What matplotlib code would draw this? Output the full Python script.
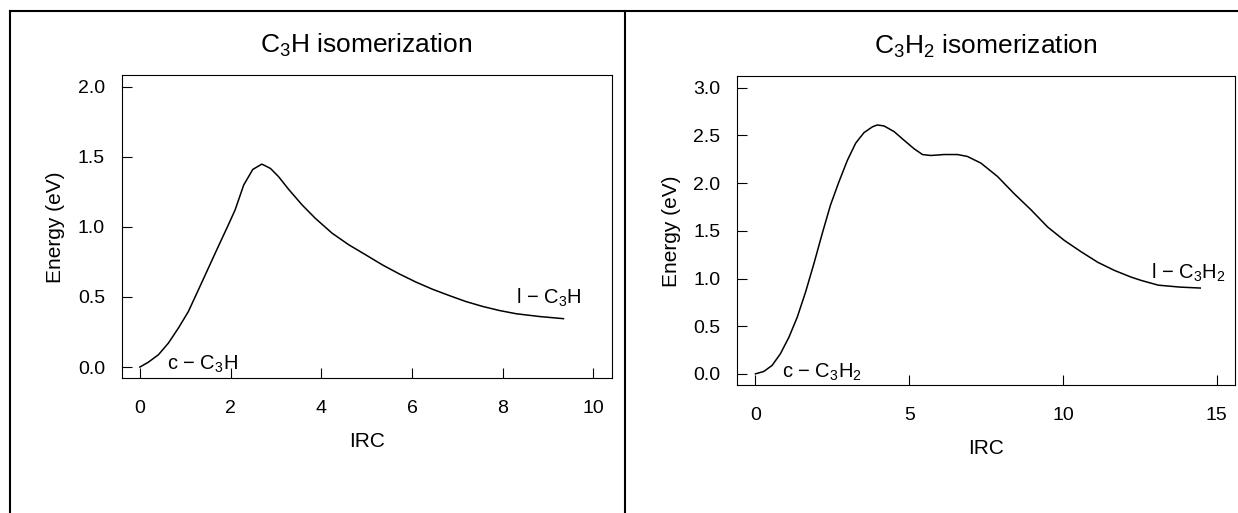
import matplotlib
matplotlib.use("Agg")
import matplotlib.pyplot as plt
from matplotlib.lines import Line2D

plt.rcParams['font.family'] = ['Liberation Sans', 'DejaVu Sans']
plt.rcParams['mathtext.fontset'] = 'custom'
plt.rcParams['mathtext.rm'] = 'Liberation Sans'
plt.rcParams['mathtext.it'] = 'Liberation Sans'
plt.rcParams['mathtext.default'] = 'regular'

# C3H isomerization path
irc_c3h = [0.0, 0.18, 0.41, 0.63, 0.85, 1.07, 1.29, 1.51, 1.73, 1.95, 2.10, 2.29,
           2.49, 2.69, 2.88, 3.06, 3.28, 3.58, 3.87, 4.24, 4.61, 4.98, 5.35, 5.72,
           6.08, 6.45, 6.82, 7.19, 7.56, 7.93, 8.30, 8.82, 9.34]
e_c3h = [0.0, 0.033, 0.088, 0.171, 0.278, 0.396, 0.55, 0.705, 0.86, 1.013, 1.12, 1.298,
         1.409, 1.447, 1.416, 1.357, 1.267, 1.155, 1.06, 0.954, 0.871, 0.80, 0.728, 0.664,
         0.607, 0.555, 0.51, 0.467, 0.432, 0.403, 0.38, 0.36, 0.345]

# C3H2 isomerization path
irc_c3h2 = [0.0, 0.27, 0.54, 0.81, 1.09, 1.36, 1.63, 1.90, 2.17, 2.44, 2.71, 2.99,
            3.26, 3.53, 3.80, 3.96, 4.18, 4.51, 4.83, 5.16, 5.43, 5.70, 6.13, 6.57,
            6.89, 7.33, 7.87, 8.41, 8.96, 9.50, 10.04, 10.59, 11.13, 11.67, 12.21,
            12.54, 13.1, 13.8, 14.46]
e_c3h2 = [0.0, 0.025, 0.088, 0.21, 0.385, 0.595, 0.858, 1.155, 1.47, 1.77, 2.01, 2.24,
          2.42, 2.53, 2.59, 2.61, 2.60, 2.54, 2.45, 2.36, 2.30, 2.29, 2.30, 2.30,
          2.28, 2.21, 2.07, 1.89, 1.72, 1.54, 1.40, 1.28, 1.17, 1.085, 1.015,
          0.98, 0.93, 0.91, 0.90]

xticks_l = [0, 2, 4, 6, 8, 10]
yticks_l = [0.0, 0.5, 1.0, 1.5, 2.0]
xticks_r = [0, 5, 10, 15]
yticks_r = [0.0, 0.5, 1.0, 1.5, 2.0, 2.5, 3.0]

fig = plt.figure(figsize=(12.38, 5.13), dpi=100)
ax1 = fig.add_axes([0.0983, 0.2626, 0.3957, 0.5906])
ax2 = fig.add_axes([0.5953, 0.2489, 0.4025, 0.6023])


def style(ax, xt, yt):
    ax.set_xticks(xt)
    ax.set_yticks(yt)
    ax.set_yticklabels(["%.1f" % v for v in yt])
    ax.tick_params(direction='in', length=7, width=0.8, labelsize=14)
    ax.tick_params(axis='x', pad=15.5)
    ax.tick_params(axis='y', pad=12)
    for s in ax.spines.values():
        s.set_linewidth(0.8)
    ax.set_xlabel("IRC", fontsize=15, labelpad=11)
    ax.set_ylabel("Energy (eV)", fontsize=15, labelpad=9)


ax1.plot(irc_c3h, e_c3h, color='black', lw=1.1)
ax1.set_xlim(-0.4, 10.4)
ax1.set_ylim(-0.08, 2.08)
style(ax1, xticks_l, yticks_l)
ax1.set_title("C$_3$H isomerization", fontsize=19, pad=16)
ax1.text(0.59, -0.019, "c \u2212 C$_3$H", fontsize=14.5, va='baseline')
ax1.text(8.29, 0.455, "l \u2212 C$_3$H", fontsize=14.5, va='baseline')

ax2.plot(irc_c3h2, e_c3h2, color='black', lw=1.1)
ax2.set_xlim(-0.6, 15.6)
ax2.set_ylim(-0.12, 3.12)
style(ax2, xticks_r, yticks_r)
ax2.set_title("C$_3$H$_2$ isomerization", fontsize=19, pad=16)
ax2.text(0.87, -0.035, "c \u2212 C$_3$H$_2$", fontsize=14.5, va='baseline')
ax2.text(12.85, 1.0, "l \u2212 C$_3$H$_2$", fontsize=14.5, va='baseline')

# frame lines around the panels
W, H = 1238.0, 513.0
fig.add_artist(Line2D([10 / W, 1.0], [1 - 11 / H, 1 - 11 / H], color='black', lw=1.5))
fig.add_artist(Line2D([10 / W, 10 / W], [0, 1 - 11 / H], color='black', lw=1.5))
fig.add_artist(Line2D([625 / W, 625 / W], [0, 1 - 11 / H], color='black', lw=1.5))

fig.savefig("out.png", dpi=100)
